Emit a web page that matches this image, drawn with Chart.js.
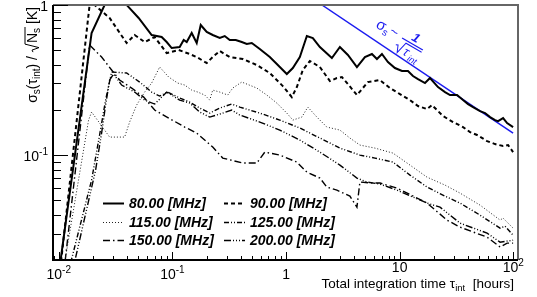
<!DOCTYPE html>
<html><head><meta charset="utf-8">
<script src="https://cdn.jsdelivr.net/npm/chart.js@4/dist/chart.umd.min.js"></script>
<style>html,body{margin:0;padding:0;background:#fff;overflow:hidden}canvas{display:block}</style>
</head><body>
<canvas id="c" width="537" height="297"></canvas>
<script>
// ---------------- data ----------------
const seriesLabels = ['80.00 [MHz]','90.00 [MHz]','115.00 [MHz]','125.00 [MHz]','150.00 [MHz]','200.00 [MHz]'];

const x80 = [0.00996,0.01945,0.02532,0.03166,0.03957,0.05047,0.06571,0.08046,0.08909,0.09858,0.1159,0.1258,0.1337,0.1479,0.1637,0.1776,0.2005,0.2265,0.2611,0.2889,0.3197,0.3611,0.4079,0.4515,0.4996,0.5876,0.7201,0.8818,1.016,1.148,1.323,1.525,1.722,1.986,2.532,2.979,3.504,4.206,4.947,5.701,6.310,6.984,7.888,9.091,10.48,11.83,13.10,14.50,16.71,18.49,21.75,25.07,27.75,31.98,36.12,39.98,44.24,51.00,56.43,62.47,69.14,73.47,81.33,88.20,99.59];
const y80 = [0.01585,0.6506,1.0,1.298,1.0,0.819,0.631,0.6117,0.5666,0.5168,0.5248,0.5843,0.5666,0.6506,0.558,0.7356,0.6607,0.631,0.6026,0.6213,0.5843,0.5843,0.5666,0.5495,0.558,0.5088,0.45,0.3861,0.3467,0.3802,0.45,0.6213,0.6026,0.5248,0.4432,0.5248,0.4642,0.3861,0.45,0.4714,0.4365,0.4714,0.4169,0.3802,0.3631,0.3631,0.3363,0.3211,0.302,0.3262,0.284,0.263,0.2512,0.2512,0.2326,0.2188,0.2089,0.1965,0.1905,0.1792,0.1711,0.1685,0.1765,0.1634,0.1537];

const x90 = [0.01016,0.01868,0.01965,0.02067,0.02803,0.03957,0.04655,0.05700,0.06984,0.08909,0.1136,0.1421,0.1637,0.2005,0.2265,0.2611,0.3197,0.4163,0.5531,0.7201,0.9371,1.125,1.245,1.406,1.621,1.986,2.432,2.803,3.102,3.504,4.206,5.256,6.706,8.214,10.06,12.32,14.50,17.40,19.26,24.07,29.49,36.12,41.64,47.99,58.78,69.14,81.33,90.0,99.59];
const y90 = [0.01585,1.0,1.131,1.0,0.819,0.558,0.631,0.5666,0.6117,0.4786,0.5012,0.4714,0.45,0.4106,0.45,0.4936,0.45,0.4365,0.3981,0.3521,0.2884,0.2435,0.284,0.369,0.4232,0.3861,0.3113,0.3262,0.3311,0.2972,0.2512,0.3066,0.3162,0.2797,0.255,0.2326,0.2122,0.2026,0.2154,0.182,0.166,0.1537,0.1423,0.1361,0.124,0.1184,0.1148,0.1166,0.1047];

const x115 = [0.0108,0.0183,0.01945,0.02288,0.02532,0.02803,0.038,0.04205,0.04846,0.057,0.06571,0.07728,0.09277,0.1113,0.1283,0.1479,0.1671,0.1926,0.2131,0.2265,0.2611,0.307,0.3399,0.4079,0.5531,0.6773,0.8296,1.016,1.148,1.378,1.556,1.868,2.288,2.979,3.649,4.469,6.06,8.73,12.32,17.4,25.07,33.98,51.0,76.5,81.33,99.59];
const y115 = [0.01585,0.1711,0.1936,0.1634,0.1468,0.1318,0.1318,0.166,0.2154,0.263,0.302,0.3861,0.3311,0.302,0.2929,0.271,0.263,0.2512,0.2326,0.271,0.263,0.2512,0.2797,0.3066,0.2797,0.2512,0.2222,0.1905,0.1711,0.1792,0.2089,0.1792,0.1537,0.1468,0.1299,0.1166,0.1113,0.1031,0.0858,0.0713,0.0631,0.0558,0.0464,0.0369,0.038,0.0326];

const x125 = [0.01195,0.01945,0.02288,0.02584,0.02919,0.03957,0.0515,0.06571,0.07728,0.09091,0.1159,0.1421,0.174,0.2131,0.2611,0.3331,0.3917,0.5876,0.8818,1.323,1.986,2.979,4.469,6.06,8.73,12.32,17.4,25.07,33.98,51.0,76.5,84.7,99.59];
const y125 = [0.01585,0.0681,0.1361,0.2326,0.3576,0.3521,0.3066,0.263,0.2473,0.263,0.2399,0.2256,0.2057,0.1905,0.2057,0.2188,0.2089,0.1905,0.1711,0.1514,0.1299,0.1113,0.1,0.0955,0.0898,0.0736,0.0612,0.0533,0.0479,0.0398,0.0326,0.0336,0.0293];

const x150 = [0.01102,0.01868,0.02383,0.02919,0.03433,0.04379,0.05587,0.06984,0.09277,0.1283,0.1637,0.2265,0.2774,0.4163,0.5531,0.6505,0.8818,1.245,1.525,1.986,2.288,2.803,3.649,4.206,4.469,5.818,6.706,9.467,17.4,26.11,33.98,58.78,76.5,88.2,99.59];
const y150 = [0.01585,0.5412,0.45,0.369,0.3162,0.2797,0.2435,0.1995,0.1765,0.1537,0.1402,0.1131,0.0955,0.0885,0.0885,0.1047,0.1,0.0898,0.077,0.0703,0.0612,0.0584,0.0533,0.045,0.0661,0.0651,0.0651,0.0603,0.0479,0.0369,0.0331,0.0284,0.0244,0.0259,0.0259];

const x200 = [0.01297,0.0211,0.02383,0.02584,0.02803,0.0304,0.03575,0.04655,0.057,0.06984,0.08909,0.1159,0.1421,0.174,0.2131,0.2611,0.3331,0.3917,0.5876,0.8818,1.323,1.986,2.979,4.206,5.151,6.706,9.467,17.4,22.65,33.98,58.78,76.5,99.59];
const y200 = [0.01585,0.0794,0.1402,0.2154,0.3162,0.3467,0.2929,0.263,0.2326,0.2188,0.263,0.2326,0.2222,0.1936,0.1792,0.1876,0.1995,0.1848,0.166,0.1468,0.1259,0.1047,0.0858,0.0703,0.0661,0.0641,0.0584,0.0479,0.045,0.0352,0.0302,0.0263,0.0271];

// reference slope line sigma ~ 1/sqrt(tau)
const slopeX = [2.07, 99.6];
const slopeY = [1.0, 0.140];

// axis ranges and tick labels
const xRange = [0.0089, 110];
const yRange = [0.02, 1];
const xMajorTicks = [0.01, 0.1, 1, 10, 100];
const xTickBase = ['10', '10', '1', '10', '10'];
const xTickSup  = ['-2', '-1', '', '', '2'];
const yMajorTicks = [0.1, 1];
const yTickBase = ['10', '1'];
const yTickSup  = ['-1', ''];

// ---------------- styles ----------------
const seriesX = [x80, x90, x115, x125, x150, x200];
const seriesY = [y80, y90, y115, y125, y150, y200];
const dashes = [[], [4,3], [1,2], [5,2,1,2,1,2], [7,3,1.5,3], [7,2,1,2,1,2,1,2]];
const widths = [2, 2, 1, 1.4, 1.4, 1.4];
const colors = ['#000', '#000', '#222', '#000', '#000', '#000'];

const FONT = '"Liberation Sans", Arial, Helvetica, sans-serif';
const F = (s, st) => `${st ? st + ' ' : ''}${s}px ${FONT}`;

function zip(xs, ys) { return xs.map((x, i) => ({x, y: ys[i]})); }

const datasets = seriesX.map((xs, i) => ({
  label: seriesLabels[i],
  data: zip(xs, seriesY[i]),
  borderColor: colors[i], borderWidth: widths[i], borderDash: dashes[i],
  showLine: true, pointRadius: 0, fill: false, tension: 0, clip: 0
}));
datasets.push({ label: '', data: zip(slopeX, slopeY), borderColor: '#1b1bf0', borderWidth: 1.5,
  showLine: true, pointRadius: 0, fill: false, tension: 0, clip: 0 });

function partsWidth(ctx, parts) { let w = 0; for (const p of parts) { ctx.font = p.f; w += ctx.measureText(p.t).width; } return w; }
function drawParts(ctx, parts, x, y) { let cx = x; for (const p of parts) { ctx.font = p.f; ctx.fillText(p.t, cx, y + (p.dy || 0)); cx += ctx.measureText(p.t).width; } return cx - x; }

const deco = {
  id: 'deco',
  beforeDraw(chart) { const c = chart.ctx; c.save(); c.fillStyle = '#fff'; c.fillRect(0, 0, chart.width, chart.height); c.restore(); },
  afterDraw(chart) {
    const ctx = chart.ctx, xs = chart.scales.x, ys = chart.scales.y, a = chart.chartArea;
    ctx.save();
    ctx.textBaseline = 'alphabetic';
    ctx.fillStyle = '#000';
    // frame
    ctx.lineWidth = 2; ctx.strokeStyle = '#666';
    ctx.beginPath(); ctx.moveTo(a.left, a.top); ctx.lineTo(a.right, a.top); ctx.lineTo(a.right, a.bottom); ctx.stroke();
    ctx.strokeStyle = '#000';
    ctx.beginPath(); ctx.moveTo(a.left, a.top); ctx.lineTo(a.left, a.bottom); ctx.lineTo(a.right, a.bottom); ctx.stroke();
    // ticks
    ctx.lineWidth = 1;
    ctx.beginPath();
    for (const d of [0.001, 0.01, 0.1, 1, 10, 100]) {
      for (let k = 1; k <= 9; k++) {
        const v = d * k;
        if (v < xRange[0] || v > xRange[1]) continue;
        const px = Math.round(xs.getPixelForValue(v)) + 0.5;
        const len = k === 1 ? 8 : 4;
        ctx.moveTo(px, a.bottom); ctx.lineTo(px, a.bottom - len);
      }
      for (let k = 1; k <= 9; k++) {
        const v = d * k;
        if (v < yRange[0] - 1e-9 || v > yRange[1] + 1e-9) continue;
        const py = Math.round(ys.getPixelForValue(v)) + 0.5;
        const len = k === 1 ? 15 : 8;
        ctx.moveTo(a.left, py); ctx.lineTo(a.left + len, py);
      }
    }
    ctx.stroke();
    // x tick labels
    xMajorTicks.forEach((v, i) => {
      const px = xs.getPixelForValue(v);
      ctx.font = F(14); const wb = ctx.measureText(xTickBase[i]).width;
      ctx.font = F(10); const wsu = ctx.measureText(xTickSup[i]).width;
      const start = px - (wb + wsu) / 2;
      const base = (v >= 10) ? 272 : 279;
      ctx.font = F(14); ctx.fillText(xTickBase[i], start, base);
      ctx.font = F(10); ctx.fillText(xTickSup[i], start + wb, base - 6);
    });
    // y tick labels
    yMajorTicks.forEach((v, i) => {
      const py = ys.getPixelForValue(v);
      ctx.font = F(14); const wb = ctx.measureText(yTickBase[i]).width;
      ctx.font = F(10); const wsu = ctx.measureText(yTickSup[i]).width;
      const right = 48;
      const start = right - wb - wsu;
      ctx.font = F(14); ctx.fillText(yTickBase[i], start, py + 6);
      ctx.font = F(10); ctx.fillText(yTickSup[i], start + wb, py);
    });
    // x title (right aligned)
    const xt = [{t:'Total integration time ', f:F(13.5)}, {t:'τ', f:F(13.5)}, {t:'int', f:F(9.5), dy:3}, {t:'  [hours]', f:F(13.5)}];
    const xw = partsWidth(ctx, xt);
    drawParts(ctx, xt, 514 - xw, 288);
    // y title (rotated, right aligned to top)
    const p1 = [{t:'σ',f:F(14)},{t:'s',f:F(10),dy:3},{t:'(',f:F(14)},{t:'τ',f:F(14)},{t:'int',f:F(10),dy:3},{t:')',f:F(14)},{t:' / ',f:F(14)}];
    const p2 = [{t:'N',f:F(14)},{t:'s',f:F(10),dy:3}];
    const p3 = [{t:' [K]',f:F(14)}];
    const w1 = partsWidth(ctx, p1), w2 = partsWidth(ctx, p2), w3 = partsWidth(ctx, p3), rw = 9;
    const W = w1 + rw + w2 + w3;
    ctx.save();
    ctx.translate(37, 7 + W); ctx.rotate(-Math.PI / 2);
    drawParts(ctx, p1, 0, 0);
    ctx.lineWidth = 1; ctx.beginPath();
    ctx.moveTo(w1, -4); ctx.lineTo(w1 + 2, -5); ctx.lineTo(w1 + 4.5, 2); ctx.lineTo(w1 + 8, -12); ctx.lineTo(w1 + rw + w2 + 1, -12);
    ctx.stroke();
    drawParts(ctx, p2, w1 + rw, 0);
    drawParts(ctx, p3, w1 + rw + w2, 0);
    ctx.restore();
    // legend
    const colX = [103, 224], rowY = [203, 222, 240], lineLen = 21;
    chart.data.datasets.forEach((ds, i) => {
      if (!ds.label) return;
      const cx = colX[i % 2], cy = rowY[Math.floor(i / 2)];
      ctx.save();
      ctx.strokeStyle = ds.borderColor; ctx.lineWidth = ds.borderWidth; ctx.setLineDash(ds.borderDash);
      ctx.beginPath(); ctx.moveTo(cx, cy + 0.5); ctx.lineTo(cx + lineLen, cy + 0.5); ctx.stroke();
      ctx.restore();
      ctx.font = F(14, 'italic bold'); ctx.fillStyle = '#000';
      ctx.fillText(ds.label, cx + lineLen + 5, cy + 5);
    });
    // blue annotation
    const ax = xs.getPixelForValue(6.06), ay = ys.getPixelForValue(0.7135);
    ctx.save();
    ctx.translate(ax, ay); ctx.rotate(Math.PI / 6);
    ctx.fillStyle = '#1b1bf0'; ctx.strokeStyle = '#1b1bf0';
    ctx.font = F(15); ctx.fillText('σ', 0, 0);
    ctx.font = F(10); ctx.fillText('s', 9, 3);
    ctx.font = F(14); ctx.fillText('~', 15, -1);
    ctx.font = F(13, 'italic bold'); ctx.textAlign = 'center'; ctx.fillText('1', 41, -7); ctx.textAlign = 'left';
    ctx.lineWidth = 1.3;
    ctx.beginPath(); ctx.moveTo(29, -4); ctx.lineTo(53, -4); ctx.stroke();
    ctx.lineWidth = 1;
    ctx.beginPath(); ctx.moveTo(27, 5); ctx.lineTo(29, 4); ctx.lineTo(32, 11); ctx.lineTo(35, -1.5); ctx.lineTo(53, -1.5); ctx.stroke();
    ctx.font = F(13, 'italic'); ctx.fillText('τ', 37, 10);
    ctx.font = F(9, 'italic'); ctx.fillText('int', 44, 13);
    ctx.restore();
    ctx.restore();
  }
};

new Chart(document.getElementById('c'), {
  type: 'scatter',
  data: { datasets },
  options: {
    responsive: false, animation: false, devicePixelRatio: 1,
    layout: { padding: { left: 53, right: 19, top: 5, bottom: 37 } },
    plugins: { legend: { display: false }, tooltip: { enabled: false } },
    scales: {
      x: { type: 'logarithmic', min: xRange[0], max: xRange[1], display: false },
      y: { type: 'logarithmic', min: yRange[0], max: yRange[1], display: false }
    }
  },
  plugins: [deco]
});
</script>
</body></html>
